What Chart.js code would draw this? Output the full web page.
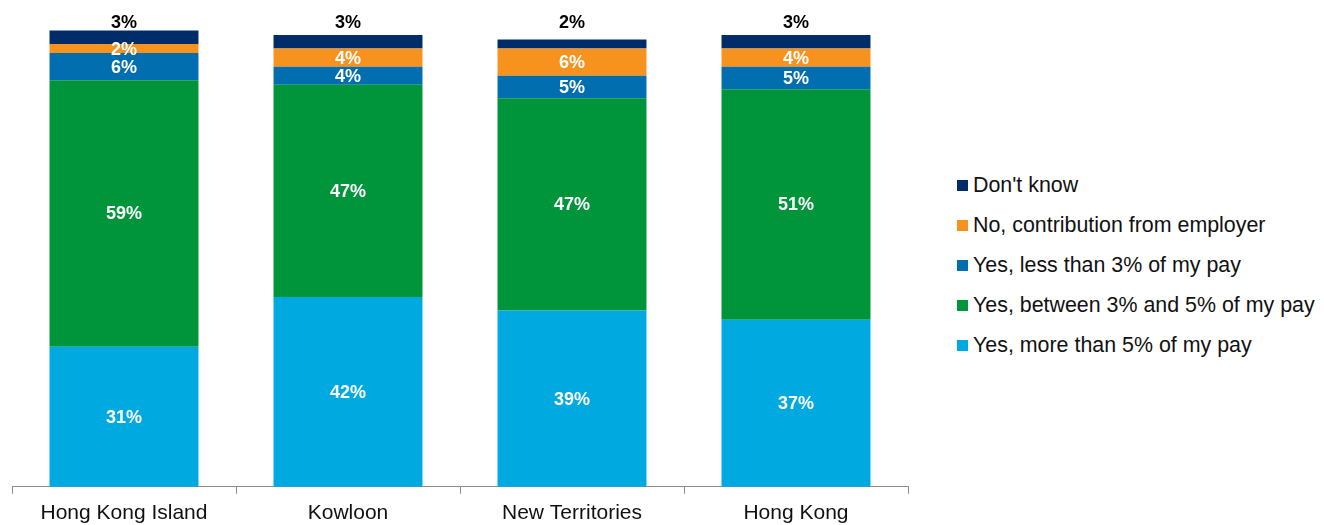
<!DOCTYPE html>
<html lang="en">
<head>
    <meta charset="UTF-8">
    <title>Employee contribution by region</title>
    <script src="https://cdn.jsdelivr.net/npm/chart.js"></script>
    <style>
        body {
            margin: 0;
            background: #fff;
            font-family: 'Liberation Sans', Arial, sans-serif;
        }
        .wrap {
            position: relative;
            width: 1324px;
            height: 525px;
            overflow: hidden;
        }
        .chart-box {
            position: absolute;
            left: 0;
            top: 0;
            width: 920px;
            height: 533px;
        }
        /* legend sits to the right of the bars */
        #legend {
            position: absolute;
            left: 957px;
            top: 165px;
            font-size: 21.4px;
            color: #111;
        }
        #legend .item {
            display: flex;
            align-items: center;
            height: 40px;
            white-space: nowrap;
        }
        #legend .swatch {
            width: 11px;
            height: 11px;
            margin-right: 5px;
            flex: none;
        }
    </style>
</head>
<body>
<div class="wrap">
    <div class="chart-box"><canvas id="contribChart"></canvas></div>
    <div id="legend"></div>
</div>

<script>
    // Regions and answer shares (%)
    var regions = ['Hong Kong Island', 'Kowloon', 'New Territories', 'Hong Kong'];
    var moreThan5 = [31, 42, 39, 37];
    var between3and5 = [59, 47, 47, 51];
    var lessThan3 = [6, 4, 5, 5];
    var employerOnly = [2, 4, 6, 4];
    var dontKnow = [3, 3, 2, 3];

    var seriesNames = [
        'Yes, more than 5% of my pay',
        'Yes, between 3% and 5% of my pay',
        'Yes, less than 3% of my pay',
        'No, contribution from employer',
        "Don't know"
    ];
    var seriesColors = ['#00a9e0', '#00953a', '#006eaf', '#f7921e', '#002d6a'];
    var seriesValues = [moreThan5, between3and5, lessThan3, employerOnly, dontKnow];

    var FONT = "'Liberation Sans', Arial, sans-serif";

    var datasets = seriesNames.map(function (name, i) {
        return {
            label: name,
            data: seriesValues[i],
            backgroundColor: seriesColors[i],
            borderWidth: 0,
            categoryPercentage: 1,
            barPercentage: 0.665,
            clip: false
        };
    });

    // value labels: white inside the segments, dark above the column for the last series
    var segmentLabels = {
        id: 'segmentLabels',
        afterDatasetsDraw: function (chart) {
            var ctx = chart.ctx;
            var last = chart.data.datasets.length - 1;
            ctx.save();
            ctx.font = 'bold 18px ' + FONT;
            ctx.textAlign = 'center';
            ctx.textBaseline = 'middle';
            chart.data.datasets.forEach(function (ds, di) {
                var meta = chart.getDatasetMeta(di);
                meta.data.forEach(function (bar, i) {
                    var text = ds.data[i] + '%';
                    if (di === last) {
                        ctx.fillStyle = '#000';
                        ctx.fillText(text, bar.x, chart.chartArea.top - 12);
                    } else {
                        ctx.fillStyle = '#fff';
                        ctx.fillText(text, bar.x, (bar.y + bar.base) / 2 + 1);
                    }
                });
            });
            ctx.restore();
        }
    };

    new Chart(document.getElementById('contribChart'), {
        type: 'bar',
        data: { labels: regions, datasets: datasets },
        options: {
            responsive: true,
            maintainAspectRatio: false,
            animation: false,
            layout: { padding: { left: 12, right: 12, top: 35, bottom: 0 } },
            plugins: {
                legend: { display: false },
                tooltip: { enabled: false }
            },
            scales: {
                x: {
                    stacked: true,
                    grid: {
                        offset: true,
                        drawOnChartArea: false,
                        tickLength: 7,
                        color: '#8c8c8c'
                    },
                    border: { color: '#8c8c8c' },
                    ticks: {
                        color: '#111',
                        padding: 7,
                        maxRotation: 0,
                        autoSkip: false,
                        font: { family: FONT, size: 21 }
                    }
                },
                y: {
                    stacked: true,
                    display: false,
                    min: 0,
                    max: 100
                }
            }
        },
        plugins: [segmentLabels]
    });

    // legend, top entry first
    var legend = document.getElementById('legend');
    for (var i = seriesNames.length - 1; i >= 0; i--) {
        var item = document.createElement('div');
        item.className = 'item';
        var sw = document.createElement('span');
        sw.className = 'swatch';
        sw.style.background = seriesColors[i];
        var label = document.createElement('span');
        label.textContent = seriesNames[i];
        item.appendChild(sw);
        item.appendChild(label);
        legend.appendChild(item);
    }
</script>
</body>
</html>
